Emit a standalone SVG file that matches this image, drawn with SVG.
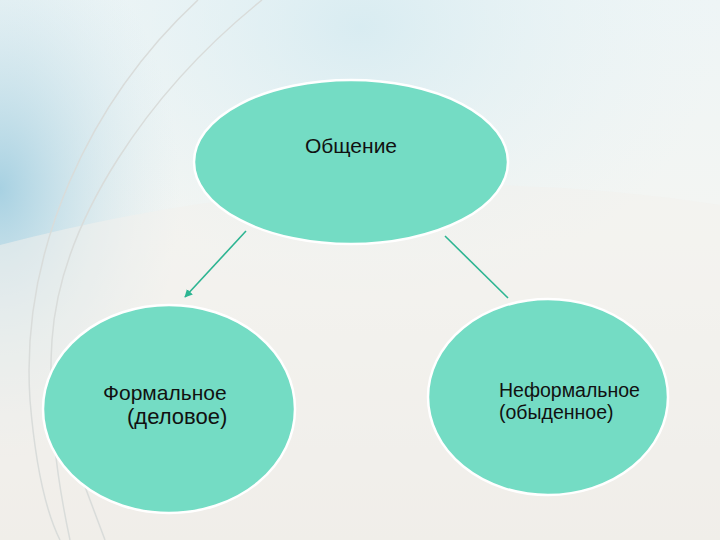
<svg xmlns="http://www.w3.org/2000/svg" width="720" height="540" viewBox="0 0 720 540">
<defs>
<linearGradient id="bg" x1="0" y1="0" x2="0" y2="1">
<stop offset="0" stop-color="#eef5f6"/>
<stop offset="0.45" stop-color="#f4f5f2"/>
<stop offset="1" stop-color="#eeebe5"/>
</linearGradient>
<radialGradient id="blue" cx="0" cy="0.35" r="0.5">
<stop offset="0" stop-color="#9fcde0" stop-opacity="0.9"/>
<stop offset="1" stop-color="#cfe6ee" stop-opacity="0"/>
</radialGradient>
<radialGradient id="topglow" cx="0.5" cy="0.05" r="0.5">
<stop offset="0" stop-color="#d6ebf1" stop-opacity="0.9"/>
<stop offset="1" stop-color="#e8f3f5" stop-opacity="0"/>
</radialGradient>
<marker id="ah" viewBox="0 0 10 10" refX="9" refY="5" markerWidth="5" markerHeight="5" orient="auto">
<path d="M0,0 L10,5 L0,10 z" fill="#2db592"/>
</marker>
<style>
.node{fill:#74dcc4;stroke:#ffffff;stroke-width:2.5}
.lbl{font-family:"Liberation Sans",Arial,sans-serif;fill:#111111}
.conn{stroke:#2db592;stroke-width:1.6;fill:none}
.arc{fill:none;stroke:#d9dcda;stroke-width:1.5}
</style>
</defs>
<rect width="720" height="540" fill="url(#bg)"/>
<rect width="720" height="540" fill="url(#topglow)"/>
<rect x="0" y="0" width="360" height="540" fill="url(#blue)"/>
<path d="M0,245 Q360,150 720,205 L720,540 L0,540 Z" fill="#f3f1ec" opacity="0.55"/>
<path class="arc" d="M198,0 C90,100 20,250 30,400 C35,460 45,510 60,540"/>
<path class="arc" d="M262,0 C150,90 60,220 52,340 C48,400 55,470 70,540" stroke="#e6e6e2"/>
<path class="arc" d="M75,460 L105,540" stroke="#e2e0da"/>
<g id="connectors">
<line class="conn" x1="246" y1="231" x2="185" y2="297" marker-end="url(#ah)"/>
<line class="conn" x1="445" y1="236" x2="508" y2="298"/>
</g>
<g id="node-top">
<ellipse class="node" cx="351" cy="162" rx="157" ry="82"/>
<text class="lbl" x="351" y="153" font-size="21" text-anchor="middle">Общение</text>
</g>
<g id="node-left">
<ellipse class="node" cx="169" cy="409" rx="126" ry="104"/>
<text class="lbl" x="103" y="400" font-size="21">Формальное</text>
<text class="lbl" x="127" y="424" font-size="22">(деловое)</text>
</g>
<g id="node-right">
<ellipse class="node" cx="548" cy="397" rx="120" ry="98"/>
<text class="lbl" x="499" y="397" font-size="19.5">Неформальное</text>
<text class="lbl" x="499" y="419" font-size="19.5">(обыденное)</text>
</g>
</svg>
